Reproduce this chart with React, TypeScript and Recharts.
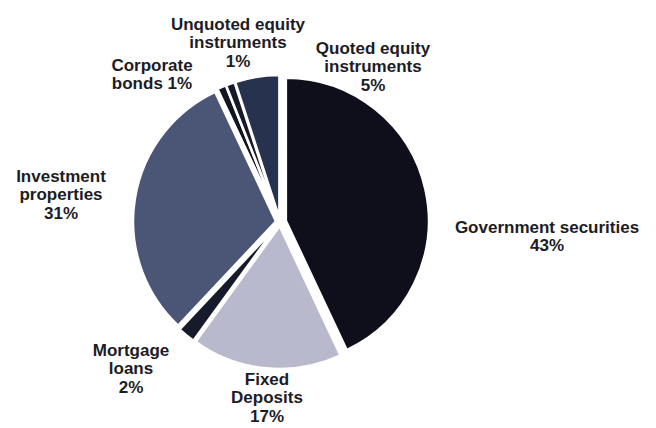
import { PieChart, Pie, Cell, Sector } from 'recharts';

const categories = [
  'Government securities',
  'Fixed Deposits',
  'Mortgage loans',
  'Investment properties',
  'Corporate bonds',
  'Unquoted equity instruments',
  'Quoted equity instruments',
];
const shares = [43, 17, 2, 31, 1, 1, 5];
// how each label is broken over lines (percentage appended from shares)
const labelLines = [
  ['Government securities'],
  ['Fixed', 'Deposits'],
  ['Mortgage', 'loans'],
  ['Investment', 'properties'],
  ['Corporate', 'bonds'],
  ['Unquoted equity', 'instruments'],
  ['Quoted equity', 'instruments'],
];
const colors = ['#0e0f1a', '#b9b9cd', '#161a2b', '#4b5676', '#11151f', '#151a2b', '#27324f'];

const data = categories.map((name, i) => ({ name, value: shares[i] }));

// label anchor offsets from pie centre (centre x, first line y)
const labelPos = [
  [267, 5],
  [-13, 157],
  [-149, 128],
  [-219, -46],
  [-128, -157],
  [-42, -198],
  [93, -174],
];
const LINE_H = 18.5;
const RAD = Math.PI / 180;

const ExplodedSector = (props: any) => {
  const { cx, cy, midAngle, index } = props;
  const d = index === 0 ? 6 : 4;
  return (
    <Sector
      {...props}
      cx={cx + d * Math.cos(-midAngle * RAD)}
      cy={cy + d * Math.sin(-midAngle * RAD)}
    />
  );
};

const renderLabel = (props: any) => {
  const { cx, cy, index } = props;
  const lines = [...labelLines[index]];
  const pct = `${shares[index]}%`;
  if (index === 4) lines[1] = `${lines[1]} ${pct}`;
  else lines.push(pct);
  const [dx, dy] = labelPos[index];
  return (
    <text
      x={cx + dx}
      y={cy + dy}
      textAnchor="middle"
      fill="#1c1c26"
      style={{ fontFamily: '"Liberation Sans", Arial, sans-serif', fontSize: 17, fontWeight: 700 }}
    >
      {lines.map((l, i) => (
        <tspan key={i} x={cx + dx} y={cy + dy + i * LINE_H} dominantBaseline="central">
          {l}
        </tspan>
      ))}
    </text>
  );
};

export default function App() {
  return (
    <div style={{ position: 'absolute', left: 0, top: 0, width: 656, height: 428, background: '#fff' }}>
      <PieChart width={656} height={428} margin={{ top: 0, right: 0, bottom: 0, left: 0 }}>
        <Pie
          data={data}
          dataKey="value"
          nameKey="name"
          cx={280}
          cy={222}
          outerRadius={143}
          startAngle={90}
          endAngle={-270}
          stroke="#ffffff"
          strokeWidth={2.5}
          labelLine={false}
          label={renderLabel}
          shape={ExplodedSector}
          isAnimationActive={false}
        >
          {data.map((d, i) => (
            <Cell key={d.name} fill={colors[i]} />
          ))}
        </Pie>
      </PieChart>
    </div>
  );
}
